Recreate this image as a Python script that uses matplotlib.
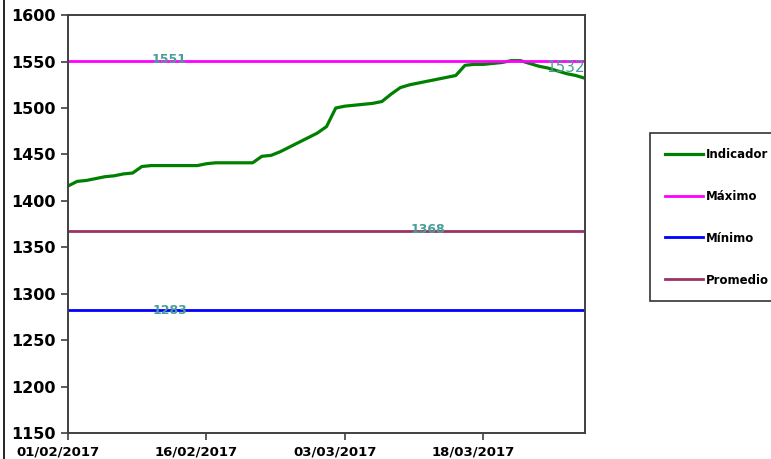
import numpy as np
import pandas as pd
import matplotlib
matplotlib.use("Agg")
import matplotlib.pyplot as plt
import matplotlib.dates as mdates
from matplotlib.transforms import ScaledTranslation
from matplotlib.lines import Line2D

# Daily indicator values, 01/02/2017 - 29/03/2017
dates = pd.date_range("2017-02-01", periods=57, freq="D")
indicador = [
    1416, 1421, 1422, 1424, 1426, 1427, 1429, 1430, 1437, 1438,
    1438, 1438, 1438, 1438, 1438, 1440, 1441, 1441, 1441, 1441,
    1441, 1448, 1449, 1453, 1458, 1463, 1468, 1473, 1480, 1500,
    1502, 1503, 1504, 1505, 1507, 1515, 1522, 1525, 1527, 1529,
    1531, 1533, 1535, 1546, 1547, 1547, 1548, 1549, 1551, 1551,
    1548, 1545, 1543, 1540, 1537, 1535, 1532,
]
maximo = 1551
minimo = 1283
promedio = 1368
tick_dates = ["2017-02-01", "2017-02-16", "2017-03-03", "2017-03-18"]

fig = plt.figure(figsize=(7.71, 4.59), dpi=100)
ax = fig.add_axes([0.0882, 0.0566, 0.6706, 0.9104])

n = len(dates)
ax.plot(dates, indicador, color="#008000", lw=2.3, label="Indicador")
ax.plot(dates, [maximo] * n, color="#ff00ff", lw=2.0, label="Máximo")
ax.plot(dates, [minimo] * n, color="#0000ff", lw=2.0, label="Mínimo")
ax.plot(dates, [promedio] * n, color="#993366", lw=2.0, label="Promedio")

lab_color = "#4a9e98"
lab_kw = dict(color=lab_color, fontsize=9, fontweight="bold", va="center")
ax.text(dates[11], maximo + 1, str(maximo), ha="center", **lab_kw)
ax.text(dates[39], promedio + 1, str(promedio), ha="center", **lab_kw)
ax.text(dates[11], minimo - 1, str(minimo), ha="center", **lab_kw)
ax.text(dates[-1], indicador[-1] + 12, str(indicador[-1]), ha="right",
        va="center", color=lab_color, fontsize=11, clip_on=True)

ax.set_ylim(1150, 1600)
ax.set_yticks(np.arange(1150, 1601, 50))
ax.set_xlim(dates[0], dates[-1])
ax.set_xticks(pd.to_datetime(tick_dates))
ax.xaxis.set_major_formatter(mdates.DateFormatter("%d/%m/%Y"))

for s in ax.spines.values():
    s.set_color("#404040")
    s.set_linewidth(1.4)
ax.tick_params(axis="both", direction="out", length=5, width=1.2, color="#404040")
ax.tick_params(axis="y", labelsize=11.5, pad=4)
ax.tick_params(axis="x", labelsize=9.5, pad=4)
for lbl in ax.get_yticklabels() + ax.get_xticklabels():
    lbl.set_fontweight("bold")
for lbl in ax.get_xticklabels():
    lbl.set_transform(lbl.get_transform() + ScaledTranslation(-0.1, 0, fig.dpi_scale_trans))

leg = fig.legend(loc="upper left", bbox_to_anchor=(650 / 771, 1 - 133 / 459),
                 frameon=True, fancybox=False, edgecolor="black",
                 prop={"weight": "bold", "size": 8.5}, labelspacing=2.45,
                 handlelength=3.2, handletextpad=0.3, borderpad=1.25,
                 borderaxespad=0)
leg.get_frame().set_linewidth(1.2)

fig.add_artist(Line2D([3.5 / 771, 3.5 / 771], [0, 1], transform=fig.transFigure,
                      color="black", lw=1.2))

fig.savefig("out.png", dpi=100)
